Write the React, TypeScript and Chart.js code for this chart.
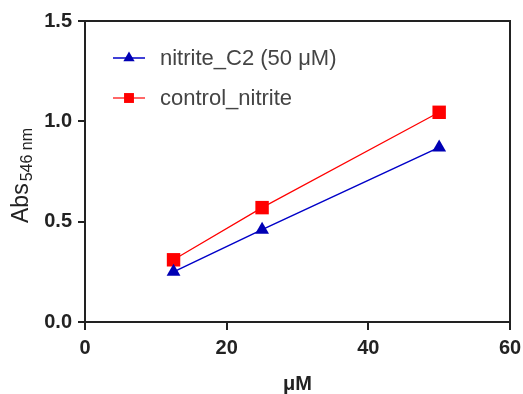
import React, { useEffect, useRef } from "react";
import { Chart, registerables } from "chart.js";

Chart.register(...registerables);

// ---- data ----
const concentrations = [12.5, 25, 50];
const nitriteC2 = [0.25, 0.46, 0.87];
const controlNitrite = [0.31, 0.57, 1.045];
const seriesNames = ["nitrite_C2 (50 μM)", "control_nitrite"];
const xTickValues = [0, 20, 40, 60];
const yTickValues = [0, 0.5, 1.0, 1.5];
const xTitle = "μM";
const yTitleMain = "Abs";
const yTitleSub = "546 nm";

const FONT = "'Liberation Sans', Arial, Helvetica, sans-serif";
const AXIS_COLOR = "#222222";
const BLUE = "#0000c8";
const RED = "#ff0000";

function drawMarker(ctx: CanvasRenderingContext2D, style: string, x: number, y: number, r: number, color: string) {
  ctx.save();
  ctx.fillStyle = color;
  ctx.beginPath();
  if (style === "triangle") {
    ctx.moveTo(x, y - r);
    ctx.lineTo(x + r * 0.866, y + r * 0.5);
    ctx.lineTo(x - r * 0.866, y + r * 0.5);
    ctx.closePath();
  } else {
    const s = r * Math.SQRT1_2;
    ctx.rect(x - s, y - s, 2 * s, 2 * s);
  }
  ctx.fill();
  ctx.restore();
}

const boxPlugin = {
  id: "boxPlugin",
  afterDraw(chart: any) {
    const { ctx, chartArea } = chart;
    ctx.save();
    ctx.strokeStyle = AXIS_COLOR;
    ctx.lineWidth = 2;
    ctx.beginPath();
    ctx.moveTo(chartArea.left - 1, chartArea.top);
    ctx.lineTo(chartArea.right, chartArea.top);
    ctx.lineTo(chartArea.right, chartArea.bottom + 1);
    ctx.stroke();
    ctx.restore();
  },
};

const legendPlugin = {
  id: "customLegend",
  afterDraw(chart: any) {
    const { ctx, chartArea } = chart;
    chart.data.datasets.forEach((ds: any, i: number) => {
      const y = chartArea.top + 37 + i * 40;
      const x0 = chartArea.left + 28;
      const x1 = chartArea.left + 60;
      ctx.save();
      ctx.strokeStyle = ds.borderColor;
      ctx.lineWidth = ds.borderWidth;
      ctx.beginPath();
      ctx.moveTo(x0, y);
      ctx.lineTo(x1, y);
      ctx.stroke();
      ctx.restore();
      drawMarker(ctx, ds.pointStyle, (x0 + x1) / 2, y, ds.pointStyle === "triangle" ? 6.5 : 7, ds.pointBackgroundColor);
      ctx.save();
      ctx.fillStyle = "#444444";
      ctx.font = `22px ${FONT}`;
      ctx.textAlign = "left";
      ctx.textBaseline = "middle";
      ctx.fillText(ds.label, chartArea.left + 75, y + 1);
      ctx.restore();
    });
  },
};

const yTitlePlugin = {
  id: "yTitle",
  afterDraw(chart: any) {
    const { ctx, chartArea } = chart;
    ctx.save();
    ctx.fillStyle = AXIS_COLOR;
    ctx.font = `23px ${FONT}`;
    const w1 = ctx.measureText(yTitleMain).width;
    ctx.font = `16px ${FONT}`;
    const w2 = ctx.measureText(yTitleSub).width;
    const total = w1 + 2 + w2;
    const cy = (chartArea.top + chartArea.bottom) / 2 + 4;
    ctx.translate(28, cy + total / 2);
    ctx.rotate(-Math.PI / 2);
    ctx.textAlign = "left";
    ctx.textBaseline = "alphabetic";
    ctx.font = `23px ${FONT}`;
    ctx.fillText(yTitleMain, 0, 0);
    ctx.font = `16px ${FONT}`;
    ctx.fillText(yTitleSub, w1 + 2, 4);
    ctx.restore();
  },
};

export default function App() {
  const canvasRef = useRef<HTMLCanvasElement | null>(null);

  useEffect(() => {
    if (!canvasRef.current) return;
    const chart = new Chart(canvasRef.current, {
      type: "line",
      data: {
        datasets: [
          {
            label: seriesNames[0],
            data: concentrations.map((x, i) => ({ x, y: nitriteC2[i] })),
            borderColor: BLUE,
            borderWidth: 1.5,
            pointStyle: "triangle",
            pointRadius: 8,
            pointHoverRadius: 8,
            pointBackgroundColor: "#0000b4",
            pointBorderWidth: 0,
            pointBorderColor: "#0000b4",
            tension: 0,
          },
          {
            label: seriesNames[1],
            data: concentrations.map((x, i) => ({ x, y: controlNitrite[i] })),
            borderColor: RED,
            borderWidth: 1.2,
            pointStyle: "rect",
            pointRadius: 9.5,
            pointHoverRadius: 9.5,
            pointBackgroundColor: RED,
            pointBorderWidth: 0,
            pointBorderColor: RED,
            tension: 0,
          },
        ],
      },
      options: {
        animation: false,
        responsive: true,
        maintainAspectRatio: false,
        layout: { padding: { left: 0, right: 13, top: 21, bottom: 0 } },
        plugins: {
          legend: { display: false },
          tooltip: { enabled: false },
        },
        scales: {
          x: {
            type: "linear",
            min: 0,
            max: 60,
            afterBuildTicks: (scale: any) => {
              scale.ticks = xTickValues.map((v) => ({ value: v }));
            },
            afterFit: (scale: any) => {
              scale.height = 72;
              scale.paddingLeft = 0;
              scale.paddingRight = 0;
            },
            ticks: {
              color: AXIS_COLOR,
              font: { family: FONT, size: 20, weight: "bold" },
              padding: 6,
              maxRotation: 0,
              callback: (v: any) => String(v),
            },
            grid: { drawOnChartArea: false, drawTicks: true, tickLength: 8, color: AXIS_COLOR, lineWidth: 2 },
            border: { display: true, color: AXIS_COLOR, width: 2 },
            title: {
              display: true,
              text: xTitle,
              color: AXIS_COLOR,
              font: { family: FONT, size: 20, weight: "bold", lineHeight: 1 },
              padding: { top: 0, bottom: 0 },
            },
          },
          y: {
            type: "linear",
            min: 0,
            max: 1.5,
            afterBuildTicks: (scale: any) => {
              scale.ticks = yTickValues.map((v) => ({ value: v }));
            },
            afterFit: (scale: any) => {
              scale.width = 85;
              scale.paddingTop = 0;
              scale.paddingBottom = 0;
            },
            ticks: {
              color: AXIS_COLOR,
              font: { family: FONT, size: 20, weight: "bold" },
              padding: 6,
              callback: (v: any) => Number(v).toFixed(1),
            },
            grid: { drawOnChartArea: false, drawTicks: true, tickLength: 7, color: AXIS_COLOR, lineWidth: 2 },
            border: { display: true, color: AXIS_COLOR, width: 2 },
          },
        },
      },
      plugins: [boxPlugin, legendPlugin, yTitlePlugin],
    } as any);
    return () => chart.destroy();
  }, []);

  return (
    <div style={{ position: "absolute", left: 0, top: 0, width: 523, height: 394, background: "#ffffff" }}>
      <canvas ref={canvasRef} />
    </div>
  );
}
